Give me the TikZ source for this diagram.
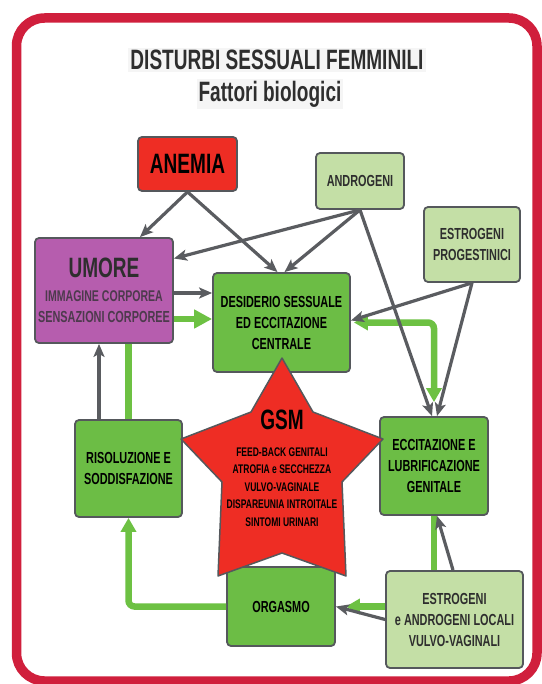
\documentclass[tikz,border=0pt]{standalone}
\usepackage{fontspec}
\setmainfont{Liberation Sans}[FakeStretch=0.68]
\usetikzlibrary{arrows.meta,calc}
\definecolor{framered}{HTML}{D01F3C}
\definecolor{redfill}{HTML}{EE2D24}
\definecolor{purplefill}{HTML}{B65DAE}
\definecolor{greenfill}{HTML}{6CBD45}
\definecolor{lightgreen}{HTML}{C4DFA6}
\definecolor{edgegray}{HTML}{55585C}
\definecolor{arrowgray}{HTML}{5A5C60}
\definecolor{greenline}{HTML}{6DC143}
\definecolor{titlegray}{HTML}{2E2E2E}
\definecolor{umoretext}{HTML}{4D3A4D}
\newcommand{\myfs}[2]{\fontsize{#1}{#2}\selectfont}
\begin{document}
\begin{tikzpicture}[x=1pt,y=-1pt,
  boxbase/.style={draw=edgegray, line width=1.8pt, rounded corners=4pt, inner sep=2pt, align=center, text=black, font=\bfseries\myfs{16}{21}},
  greenbox/.style={boxbase, fill=greenfill},
  lightbox/.style={boxbase, fill=lightgreen, text=titlegray},
  garrow/.style={draw=arrowgray, line width=3.2pt, -{Stealth[length=13pt,width=11pt,inset=3pt]}},
  gline/.style={draw=greenline, line width=6.5pt},
  gtip/.style={-{Triangle[length=18pt,width=18pt]}},
  titlestyle/.style={fill=black!4, inner sep=2pt, text=titlegray, font=\bfseries\myfs{28}{30}}
]
\useasboundingbox (0,0) rectangle (541,684);
\fill[white] (0,0) rectangle (541,684);
\draw[framered, line width=9.5pt, rounded corners=28pt] (16.5,18) rectangle (537,681);

% titles
\node[titlestyle] (title) at (277,60) {DISTURBI SESSUALI FEMMINILI};
\node[titlestyle] (subtitle) at (270,94) {Fattori biologici};

% boxes
\node[boxbase, fill=redfill, minimum width=99pt, minimum height=54pt, font=\bfseries\myfs{28}{30}] (anemia) at (187.5,164) {ANEMIA};
\node[lightbox, minimum width=88pt, minimum height=56pt] (androgeni) at (360,181) {ANDROGENI};
\node[lightbox, minimum width=96pt, minimum height=75pt] (estprog) at (472,244.5) {ESTROGENI\\PROGESTINICI};
\node[boxbase, fill=purplefill, minimum width=138pt, minimum height=105pt, text=umoretext] (umore) at (104,290.5) {{\color{titlegray}\myfs{28}{30}UMORE}\\[3pt]\myfs{15.5}{21}IMMAGINE CORPOREA\\SENSAZIONI CORPOREE};
\node[greenbox, minimum width=137pt, minimum height=99pt] (desiderio) at (281.5,322.5) {DESIDERIO SESSUALE\\ED ECCITAZIONE\\CENTRALE};
\node[greenbox, minimum width=107pt, minimum height=97pt] (risol) at (128.5,468.5) {RISOLUZIONE E\\SODDISFAZIONE};
\node[greenbox, minimum width=108pt, minimum height=98pt] (eccit) at (434,466) {ECCITAZIONE E\\LUBRIFICAZIONE\\GENITALE};
\node[greenbox, minimum width=108pt, minimum height=79pt] (orgasmo) at (281,606.5) {ORGASMO};
\node[lightbox, minimum width=137pt, minimum height=97pt] (estloc) at (454.5,619.5) {ESTROGENI\\e ANDROGENI LOCALI\\VULVO-VAGINALI};

% star
\draw[fill=redfill, draw=edgegray, line width=1.5pt, line join=round]
  (282,358) -- (313,412) -- (383,439) -- (342,482) -- (346,576) -- (282,553)
  -- (218,576) -- (222,482) -- (181,439) -- (251,412) -- cycle;
\node[font=\bfseries\myfs{28}{30}, text=black] (gsm) at (282,420) {GSM};
\node[align=center, font=\bfseries\myfs{12.5}{17.5}, text=black] (gsmtext) at (282,487) {FEED-BACK GENITALI\\ATROFIA e SECCHEZZA\\VULVO-VAGINALE\\DISPAREUNIA INTROITALE\\SINTOMI URINARI};

% green connectors
\draw[gline, gtip] ([yshift=-28.5pt]umore.east) -- ([yshift=-28.5pt]umore.east -| desiderio.west);
\draw[gline] (risol.north) -- (risol.north |- umore.south);
\draw[gline, -{Triangle[length=14pt,width=15pt]}, rounded corners=6pt] (orgasmo.west) -| (risol.south);
\draw[gline, {Triangle[length=14pt,width=15pt]}-{Triangle[length=14pt,width=15pt]}, rounded corners=6pt, shorten <=3pt] (desiderio.east) -| ([yshift=14pt]eccit.north);
\draw[gline] (eccit.south) -- (eccit.south |- estloc.north);
\draw[gline, -{Triangle[length=14pt,width=15pt]}, shorten >=10pt] (estloc.west |- orgasmo.east) -- (orgasmo.east);

% gray connectors
\draw[garrow] (anemia.south) -- ([xshift=36pt]umore.north);
\draw[garrow] (anemia.south) -- ([xshift=-4pt]desiderio.north);
\draw[garrow] (androgeni.south) -- ([yshift=32pt]umore.east);
\draw[garrow] (androgeni.south) -- ([xshift=3pt]desiderio.north);
\draw[garrow] (androgeni.south) -- ([xshift=-2pt]eccit.north);
\draw[garrow] (estprog.south) -- ([yshift=2pt]desiderio.east);
\draw[garrow] (estprog.south) -- ([xshift=3pt]eccit.north);
\draw[garrow] ([yshift=-2.5pt]umore.east) -- ([yshift=-2.5pt]umore.east -| desiderio.west);
\draw[garrow] ([xshift=-29.5pt]risol.north) -- ([xshift=-29.5pt]risol.north |- umore.south);
\draw[garrow] ([xshift=-1.5pt]estloc.north) -- ([xshift=3pt]eccit.south);
\draw[garrow] (estloc.west) -- (orgasmo.east);
\end{tikzpicture}
\end{document}
